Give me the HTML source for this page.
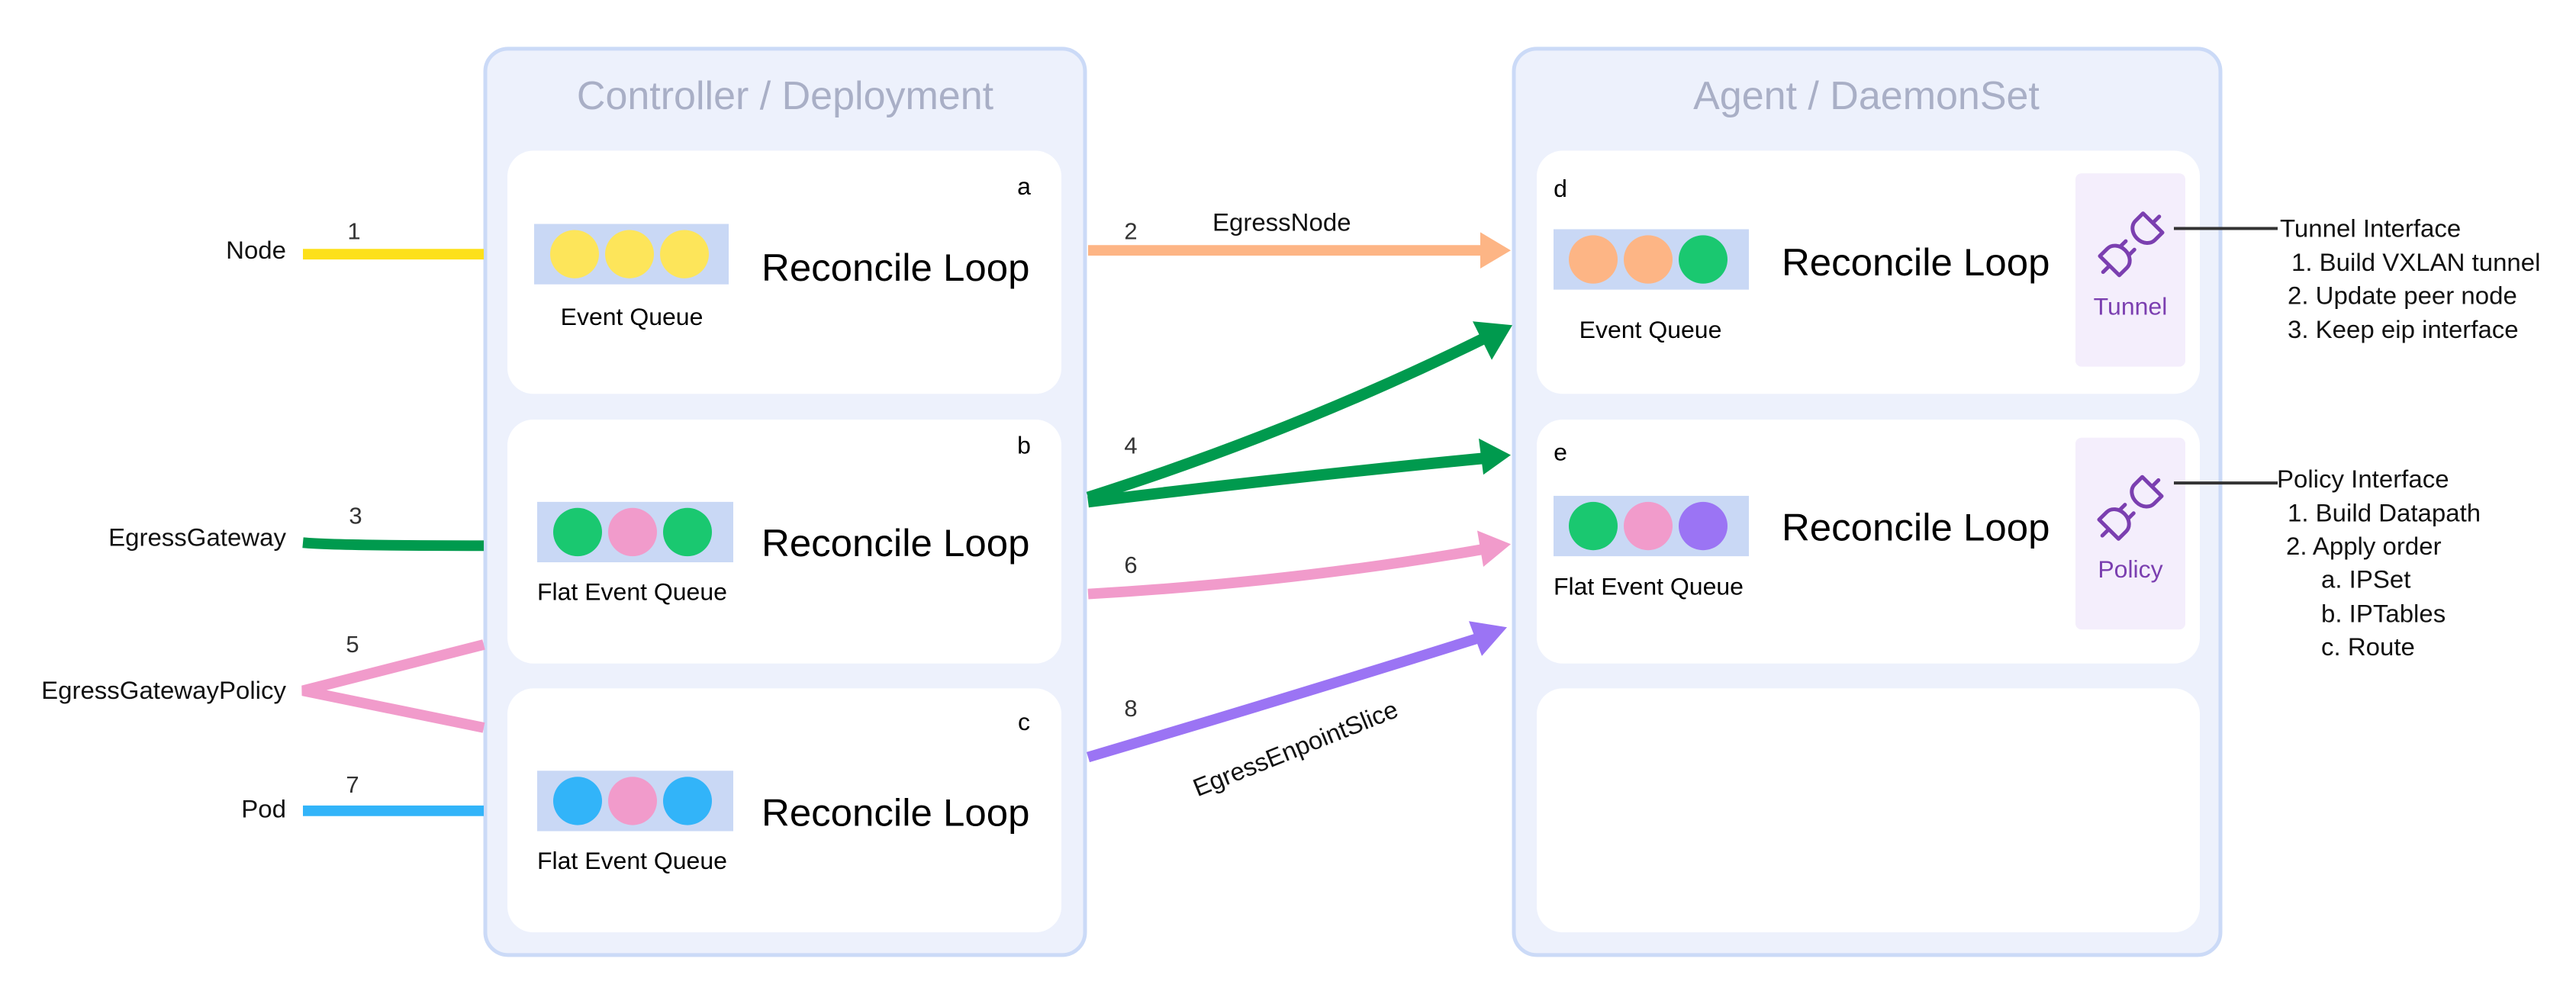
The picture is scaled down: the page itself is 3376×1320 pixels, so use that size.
<!DOCTYPE html>
<html><head><meta charset="utf-8"><style>
html,body{margin:0;padding:0;background:#fff;}
svg{display:block;}
text{font-family:"Liberation Sans",sans-serif;}
</style></head><body>
<svg width="3376" height="1320" viewBox="0 0 3376 1320" xmlns="http://www.w3.org/2000/svg">
<defs>
<g id="plug" fill="none" stroke="#7b3fb0" stroke-width="5" stroke-linecap="round" stroke-linejoin="round">
  <path d="M-52 0 H-40 M-40 -18 H-26 A15 18 0 0 1 -11 0 A15 18 0 0 1 -26 18 H-40 Z M-11 -8 H-2 M-11 8 H-2"/>
  <path d="M52 0 H40 M40 -18 H26 A15 18 0 0 0 11 0 A15 18 0 0 0 26 18 H40 Z"/>
</g>
</defs>
<g transform="matrix(1,0,0,0.99,0,0.5)">
<!-- Controller -->
<rect x="636" y="64" width="786" height="1200" rx="30" fill="#edf1fc" stroke="#cbdaf7" stroke-width="5"/>
<text x="1029" y="144" font-size="52" fill="#a9afc6" text-anchor="middle">Controller / Deployment</text>
<rect x="665" y="199" width="726" height="322" rx="34" fill="#fff"/>
<rect x="665" y="555" width="726" height="323" rx="34" fill="#fff"/>
<rect x="665" y="911" width="726" height="323" rx="34" fill="#fff"/>
<text x="1342" y="257" font-size="32" text-anchor="middle">a</text>
<text x="1342" y="600" font-size="32" text-anchor="middle">b</text>
<text x="1342" y="966" font-size="32" text-anchor="middle">c</text>
<rect x="700" y="296" width="255" height="80" fill="#c9d8f5"/>
<circle cx="753" cy="336" r="32" fill="#fde55a"/><circle cx="825" cy="336" r="32" fill="#fde55a"/><circle cx="897" cy="336" r="32" fill="#fde55a"/>
<text x="828" y="430" font-size="32" text-anchor="middle">Event Queue</text>
<text x="998" y="371" font-size="51">Reconcile Loop</text>
<rect x="704" y="664" width="257" height="80" fill="#c9d8f5"/>
<circle cx="757" cy="704" r="32" fill="#1ac870"/><circle cx="829" cy="704" r="32" fill="#f19bcb"/><circle cx="901" cy="704" r="32" fill="#1ac870"/>
<text x="704" y="794" font-size="32">Flat Event Queue</text>
<text x="998" y="736" font-size="51">Reconcile Loop</text>
<rect x="704" y="1020" width="257" height="80" fill="#c9d8f5"/>
<circle cx="757" cy="1060" r="32" fill="#32b4f9"/><circle cx="829" cy="1060" r="32" fill="#f19bcb"/><circle cx="901" cy="1060" r="32" fill="#32b4f9"/>
<text x="704" y="1150" font-size="32">Flat Event Queue</text>
<text x="998" y="1093" font-size="51">Reconcile Loop</text>

<!-- Agent -->
<rect x="1984" y="64" width="926" height="1200" rx="30" fill="#edf1fc" stroke="#cbdaf7" stroke-width="5"/>
<text x="2446" y="144" font-size="52" fill="#a9afc6" text-anchor="middle">Agent / DaemonSet</text>
<rect x="2014" y="199" width="869" height="322" rx="34" fill="#fff"/>
<rect x="2014" y="555" width="869" height="323" rx="34" fill="#fff"/>
<rect x="2014" y="911" width="869" height="323" rx="34" fill="#fff"/>
<text x="2045" y="260" font-size="32" text-anchor="middle">d</text>
<text x="2045" y="609" font-size="32" text-anchor="middle">e</text>
<rect x="2036" y="303" width="256" height="80" fill="#c9d8f5"/>
<circle cx="2088" cy="343" r="32" fill="#fdb585"/><circle cx="2160" cy="343" r="32" fill="#fdb585"/><circle cx="2232" cy="343" r="32" fill="#1ac870"/>
<text x="2163" y="447" font-size="32" text-anchor="middle">Event Queue</text>
<text x="2335" y="364" font-size="51">Reconcile Loop</text>
<rect x="2036" y="656" width="256" height="80" fill="#c9d8f5"/>
<circle cx="2088" cy="696" r="32" fill="#1ac870"/><circle cx="2160" cy="696" r="32" fill="#f19bcb"/><circle cx="2232" cy="696" r="32" fill="#9b74f4"/>
<text x="2036" y="787" font-size="32">Flat Event Queue</text>
<text x="2335" y="715" font-size="51">Reconcile Loop</text>
<rect x="2720" y="229" width="144" height="256" rx="8" fill="#f4eefc"/>
<rect x="2720" y="579" width="144" height="254" rx="8" fill="#f4eefc"/>
<use href="#plug" transform="translate(2793,323) rotate(-45)"/>
<use href="#plug" transform="translate(2792,672) rotate(-45)"/>
<text x="2792" y="416" font-size="32" fill="#7b3fb0" text-anchor="middle">Tunnel</text>
<text x="2792" y="764" font-size="32" fill="#7b3fb0" text-anchor="middle">Policy</text>

<!-- right annotations -->
<line x1="2849" y1="302" x2="2985" y2="302" stroke="#333" stroke-width="4"/>
<line x1="2849" y1="639" x2="2985" y2="639" stroke="#333" stroke-width="4"/>
<g font-size="33" fill="#111">
<text x="2988" y="313">Tunnel Interface</text>
<text x="3003" y="358">1. Build VXLAN tunnel</text>
<text x="2998" y="402">2. Update peer node</text>
<text x="2998" y="447">3. Keep eip interface</text>
<text x="2984" y="645">Policy Interface</text>
<text x="2998" y="690">1. Build Datapath</text>
<text x="2996" y="734">2. Apply order</text>
<text x="3042" y="778">a. IPSet</text>
<text x="3042" y="823">b. IPTables</text>
<text x="3042" y="867">c. Route</text>
</g>

<!-- left inputs -->
<g font-size="33" fill="#111" text-anchor="end">
<text x="375" y="342">Node</text>
<text x="375" y="722">EgressGateway</text>
<text x="375" y="925">EgressGatewayPolicy</text>
<text x="375" y="1082">Pod</text>
</g>
<g font-size="31" fill="#333" text-anchor="middle">
<text x="464" y="316">1</text><text x="466" y="693">3</text><text x="462" y="863">5</text><text x="462" y="1049">7</text>
<text x="1482" y="316">2</text><text x="1482" y="600">4</text><text x="1482" y="758">6</text><text x="1482" y="948">8</text>
</g>
<line x1="397" y1="336" x2="634" y2="336" stroke="#fde01a" stroke-width="14"/>
<path d="M397 718 Q440 722 634 722" stroke="#009a4e" stroke-width="14" fill="none"/>
<path d="M634 853 L397 914 L634 963" stroke="#f19bcb" stroke-width="14" fill="none" stroke-linejoin="miter"/>
<line x1="397" y1="1073" x2="634" y2="1073" stroke="#32b4f9" stroke-width="14"/>

<!-- arrows -->
<line x1="1426" y1="331" x2="1945" y2="331" stroke="#fdb585" stroke-width="14"/>
<polygon points="1940,307 1980,331 1940,355" fill="#fdb585"/>
<path d="M1426 658 Q1700 570 1950 445" stroke="#009a4e" stroke-width="15" fill="none"/>
<polygon points="1930,425 1982,430 1955,476" fill="#009a4e"/>
<path d="M1426 664 Q1700 630 1948 606" stroke="#009a4e" stroke-width="15" fill="none"/>
<polygon points="1938,580 1980,602 1944,628" fill="#009a4e"/>
<path d="M1426 786 Q1700 770 1948 726" stroke="#f19bcb" stroke-width="14" fill="none"/>
<polygon points="1936,702 1980,720 1944,750" fill="#f19bcb"/>
<path d="M1426 1002 Q1700 920 1945 842" stroke="#9b74f4" stroke-width="14" fill="none"/>
<polygon points="1925,822 1975,830 1942,868" fill="#9b74f4"/>
<text x="1589" y="305" font-size="33" fill="#111">EgressNode</text>
<text x="1702" y="1001" font-size="33" fill="#111" text-anchor="middle" transform="rotate(-22 1702 1001)">EgressEnpointSlice</text>
</g>
</svg>
</body></html>
